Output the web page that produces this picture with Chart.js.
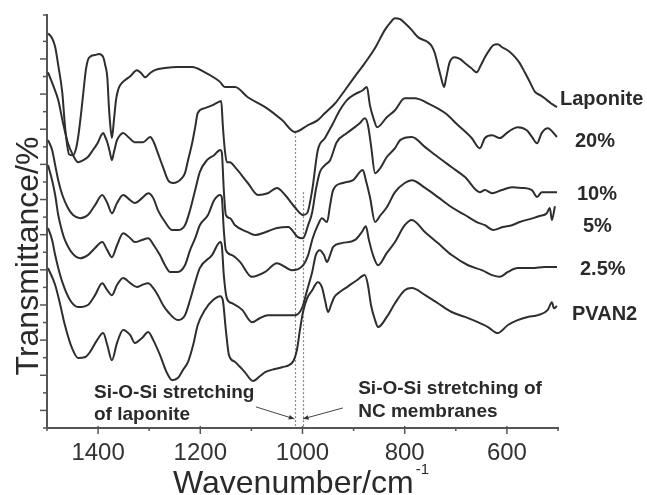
<!DOCTYPE html>
<html><head><meta charset="utf-8">
<style>html,body{margin:0;padding:0;background:#fff;}canvas{display:block;}</style>
<script src="https://cdn.jsdelivr.net/npm/chart.js@4.4.1/dist/chart.umd.min.js"></script>
</head><body>
<canvas id="c" width="647" height="495"></canvas>
<script>
// ---- data (wavenumber in cm^-1, transmittance in arbitrary offset %) ----
const seriesNames = ['Laponite','20%','10%','5%','2.5%','PVAN2'];

const lapWn = [1498,1490,1484,1478,1470,1465,1461,1457,1449,1443,1439,1433,1429,1424,1420,1414,1406,1398,1390,1386,1382,1379,1377,1373,1369,1365,1361,1357,1347,1337,1324,1316,1308,1298,1289,1269,1244,1216,1191,1171,1161,1152,1132,1107,1073,1040,1015,989,970,956,936,917,897,878,858,839,829,819,809,800,786,774,755,747,741,735,729,723,719,712,702,692,682,670,659,651,643,633,627,618,610,596,584,575,565,555,545,535,526,514,502];
const lapT = [107.3,105.9,103.4,98.2,90.3,81.2,76.0,72.9,72.6,74.6,77.8,84.9,90.3,96.8,99.7,100.8,101.1,101.4,100.5,98.2,94.8,86.8,82.6,77.5,82.6,88.3,91.1,92.5,94.0,95.1,96.8,96.0,94.8,96.0,96.8,97.4,97.7,97.7,96.2,94.5,93.4,92.0,92.0,89.1,86.3,82.6,79.2,81.2,82.6,84.6,87.4,91.1,95.1,98.8,103.1,108.2,110.2,111.6,111.3,110.2,108.2,106.2,104.8,103.6,101.6,98.2,94.8,92.0,94.5,99.1,100.5,100.0,98.8,97.4,96.2,98.2,100.5,102.8,103.9,104.2,103.4,102.2,100.5,98.8,96.2,93.4,90.6,89.7,88.8,87.4,86.3];

const p20Wn = [1498,1488,1478,1469,1459,1449,1439,1429,1420,1410,1400,1394,1390,1386,1382,1377,1373,1369,1363,1357,1351,1341,1328,1312,1298,1291,1283,1273,1263,1253,1245,1236,1230,1224,1216,1210,1205,1191,1177,1165,1159,1156,1152,1148,1142,1132,1107,1087,1068,1050,1034,1015,999,991,981,970,956,942,927,913,897,882,874,868,860,854,835,819,800,780,755,721,696,669,653,643,629,614,598,579,561,551,541,532,520,502];
const p20T = [96.2,92.5,88.3,82.0,76.0,72.6,70.6,71.2,72.1,74.1,76.3,78.3,78.9,77.8,76.3,73.5,71.2,73.5,76.9,78.3,78.9,77.8,76.3,76.3,77.8,76.3,73.2,69.2,65.5,64.7,65.0,66.1,67.5,71.2,76.0,80.6,84.6,86.0,86.8,87.7,88.0,81.2,74.1,70.6,70.6,69.2,64.7,61.3,61.8,63.3,61.3,57.8,55.6,56.1,62.7,74.1,77.5,81.2,85.4,88.3,90.0,91.1,92.0,86.8,82.6,80.6,83.4,85.4,88.8,88.8,87.4,84.6,81.2,77.5,74.6,77.5,78.3,77.5,79.2,80.6,79.7,77.8,76.0,78.9,80.3,77.8];

const p10Wn = [1498,1490,1484,1478,1470,1459,1449,1435,1420,1406,1392,1382,1373,1363,1351,1337,1328,1314,1302,1292,1283,1269,1255,1244,1230,1220,1210,1201,1187,1173,1161,1158,1154,1150,1142,1132,1107,1093,1073,1050,1028,1009,999,989,981,974,966,956,946,933,913,888,878,872,866,858,848,835,819,809,786,760,735,708,682,653,643,629,610,590,571,551,541,532,502];
const p10T = [76.9,74.1,69.8,65.5,61.3,57.6,55.6,54.7,55.6,58.4,61.3,59.0,56.1,59.0,61.3,59.8,59.0,60.4,61.8,60.4,57.0,53.6,51.3,51.3,52.7,57.0,62.7,67.8,71.2,72.6,74.1,73.5,62.7,55.6,54.7,52.7,50.7,49.9,50.7,51.9,52.2,49.3,49.0,52.7,56.4,62.7,67.8,69.8,71.2,76.3,78.9,81.7,83.1,81.2,75.5,67.5,68.9,72.1,74.6,76.9,77.8,74.9,72.1,69.2,66.4,62.1,62.7,61.8,62.7,63.5,63.3,62.7,60.7,62.1,62.1];

const p5Wn = [1498,1490,1484,1478,1470,1465,1451,1435,1420,1406,1392,1382,1373,1363,1351,1337,1328,1314,1302,1291,1279,1269,1259,1244,1230,1220,1210,1201,1185,1173,1161,1158,1154,1150,1138,1122,1099,1073,1050,1034,1021,999,989,980,970,962,952,946,940,921,901,882,876,868,858,847,835,819,800,786,760,735,708,682,659,643,627,608,590,575,549,536,522,516,512,506];
const p5T = [69.8,65.5,61.3,55.6,50.7,48.5,44.8,43.3,44.2,46.2,47.9,45.6,43.6,47.0,50.4,49.0,47.9,48.5,49.0,47.0,44.2,41.3,39.4,39.4,41.3,45.6,49.0,52.7,55.6,59.8,61.3,60.7,51.3,45.6,44.2,42.2,38.0,39.4,41.9,40.8,39.9,41.3,44.2,49.0,52.7,54.7,53.6,58.4,62.7,64.7,65.5,68.4,65.5,60.7,53.6,55.6,57.8,62.1,64.7,65.5,63.3,60.7,57.8,55.6,53.6,52.7,51.3,52.2,52.7,53.6,54.7,55.3,56.1,57.6,54.2,58.1];

const p25Wn = [1498,1490,1484,1478,1470,1455,1439,1420,1406,1392,1382,1373,1363,1351,1337,1324,1314,1302,1292,1283,1273,1263,1244,1230,1220,1210,1201,1177,1161,1158,1154,1148,1138,1118,1099,1083,1068,1040,1015,1001,991,981,974,966,958,952,946,940,923,897,884,876,870,862,852,835,819,800,786,760,735,708,676,649,629,614,598,579,551,526,502];
const p25T = [51.9,48.5,44.2,40.5,36.5,31.4,29.4,30.0,32.8,36.2,34.2,32.8,35.7,37.7,36.2,35.1,35.7,36.2,34.8,32.8,30.0,28.0,25.7,27.1,31.4,36.5,40.5,44.2,47.9,47.0,38.5,31.9,30.5,28.6,25.1,26.3,27.1,27.1,27.1,29.1,34.2,39.4,44.2,45.6,44.2,42.2,44.2,46.5,47.6,48.5,50.7,52.4,48.5,44.2,41.3,44.8,47.9,52.7,54.2,50.7,47.6,44.2,41.3,39.9,38.5,38.0,39.4,40.5,40.5,40.8,40.8];

const pvaWn = [1498,1484,1474,1465,1451,1439,1425,1416,1402,1390,1382,1373,1363,1351,1337,1328,1314,1302,1292,1279,1265,1255,1244,1234,1224,1214,1205,1191,1175,1161,1156,1150,1144,1132,1113,1097,1083,1073,1054,1040,1019,1011,1005,999,991,981,970,962,956,950,944,938,927,913,893,878,872,866,858,852,835,819,800,786,760,735,708,682,657,637,618,598,579,559,539,520,512,508,502];
const pvaT = [40.5,35.7,30.0,24.3,17.7,14.9,15.2,16.6,20.0,22.0,18.6,14.3,19.2,22.9,21.4,19.2,20.6,22.3,20.0,15.8,10.6,8.6,9.2,11.5,13.8,18.6,24.3,28.6,31.4,32.5,31.4,22.9,15.8,13.8,10.9,8.4,9.8,10.9,11.8,12.3,13.8,17.2,22.9,28.0,31.9,34.2,36.5,35.1,31.4,28.0,30.0,32.2,33.7,35.1,37.1,38.5,35.7,30.0,25.7,23.7,26.6,30.5,34.2,34.8,32.8,30.5,28.0,26.6,25.1,23.7,22.0,24.3,25.7,26.6,27.1,28.6,30.8,29.1,29.7];

const xTickLabels = [1400,1200,1000,800,600];
const yTitle = 'Transmittance/%';
const xTitle = 'Wavenumber/cm';
const xTitleSup = '-1';
const noteLeft = ['Si-O-Si stretching','of laponite'];
const noteRight = ['Si-O-Si stretching of','NC membranes'];
const markerWn = [1014, 1000];
const markerTop = [79.2, 62.1];

// ---- build ----
const wnSets = [lapWn,p20Wn,p10Wn,p5Wn,p25Wn,pvaWn];
const tSets = [lapT,p20T,p10T,p5T,p25T,pvaT];
const datasets = seriesNames.map((n,i)=>({
  label:n,
  data: wnSets[i].map((w,k)=>({x:w,y:tSets[i][k]})),
  borderColor:'#2e2e2e', borderWidth:2, pointRadius:0, fill:false,
  cubicInterpolationMode:'monotone'
}));

const FONT = "'Liberation Sans', Arial, sans-serif";
// label layout (outside data)
const labelDx = [2,17,19,25,22,14];
const labelBase = [86.8,74.9,59.8,50.7,38.5,25.7];

const deco = {
  id:'deco',
  beforeDatasetsDraw(chart){
    const {ctx, chartArea:a, scales:{x,y}} = chart;
    ctx.save();
    ctx.setLineDash([2,2]);
    ctx.strokeStyle='#888'; ctx.lineWidth=1.2;
    markerWn.forEach((w,i)=>{
      const px = Math.round(x.getPixelForValue(w))+0.5;
      ctx.beginPath(); ctx.moveTo(px, y.getPixelForValue(markerTop[i])); ctx.lineTo(px, a.bottom); ctx.stroke();
    });
    ctx.restore();
  },
  afterDraw(chart){
    const {ctx, chartArea:a, scales:{x,y}} = chart;
    ctx.save();
    ctx.strokeStyle='#555'; ctx.lineWidth=1.5;
    x.ticks.forEach(t=>{
      const px = x.getPixelForValue(t.value);
      const major = t.value % 200 === 0;
      ctx.beginPath(); ctx.moveTo(px, a.bottom-(major?2:0)); ctx.lineTo(px, a.bottom+(major?6:3)); ctx.stroke();
    });
    y.ticks.forEach(t=>{
      const py = y.getPixelForValue(t.value);
      const major = Math.round(t.value) % 10 === 0;
      ctx.beginPath(); ctx.moveTo(a.left-(major?7:4), py); ctx.lineTo(a.left+(major?1:0), py); ctx.stroke();
    });
    // arrows
    const arrow=(x0,y0,x1,y1)=>{
      const X0=x.getPixelForValue(x0),Y0=y.getPixelForValue(y0),X1=x.getPixelForValue(x1),Y1=y.getPixelForValue(y1);
      ctx.strokeStyle='#444'; ctx.lineWidth=1;
      ctx.beginPath(); ctx.moveTo(X0,Y0); ctx.lineTo(X1,Y1); ctx.stroke();
      const ang=Math.atan2(Y1-Y0,X1-X0), L=6;
      ctx.fillStyle='#333'; ctx.beginPath(); ctx.moveTo(X1,Y1);
      ctx.lineTo(X1-L*Math.cos(ang-0.4),Y1-L*Math.sin(ang-0.4));
      ctx.lineTo(X1-L*Math.cos(ang+0.4),Y1-L*Math.sin(ang+0.4)); ctx.closePath(); ctx.fill();
    };
    arrow(1091,1.0,1016,-2.4);
    arrow(921,0.7,999,-2.4);
    // annotations
    ctx.fillStyle='#2a2a2a'; ctx.textBaseline='alphabetic'; ctx.textAlign='left';
    ctx.font='bold 19px '+FONT;
    ctx.fillText(noteLeft[0], x.getPixelForValue(1408), y.getPixelForValue(3.5));
    ctx.fillText(noteLeft[1], x.getPixelForValue(1408), y.getPixelForValue(-2.7));
    ctx.fillText(noteRight[0], x.getPixelForValue(891), y.getPixelForValue(4.7));
    ctx.fillText(noteRight[1], x.getPixelForValue(891), y.getPixelForValue(-1.9));
    ctx.font='bold 20px '+FONT;
    seriesNames.forEach((n,i)=>{ ctx.fillText(n, a.right+labelDx[i], y.getPixelForValue(labelBase[i])); });
    // axis titles
    ctx.fillStyle='#2a2a2a';
    ctx.font='32px '+FONT;
    ctx.save(); ctx.translate(38, 256); ctx.rotate(-Math.PI/2); ctx.textAlign='center'; ctx.fillText(yTitle,0,0); ctx.restore();
    ctx.textAlign='left';
    ctx.fillText(xTitle, 173, 493);
    const w = ctx.measureText(xTitle).width;
    ctx.font='15px '+FONT;
    ctx.fillText(xTitleSup, 173+w+2, 474);
    ctx.restore();
  }
};

new Chart(document.getElementById('c'), {
  type:'line',
  data:{datasets},
  options:{
    responsive:false, animation:false, devicePixelRatio:1,
    layout:{padding:{top:15,right:89,left:0,bottom:0}},
    plugins:{legend:{display:false}, tooltip:{enabled:false}},
    scales:{
      x:{type:'linear', reverse:true, min:500, max:1500,
        grid:{display:false, drawTicks:false},
        border:{display:true, color:'#555', width:2},
        ticks:{stepSize:100, autoSkip:false, maxRotation:0, padding:11, color:'#333',
          font:{family:FONT, size:24},
          callback:(v)=> xTickLabels.includes(v) ? String(v) : ''},
        afterFit:(s)=>{ s.height = 67; }
      },
      y:{type:'linear', min:-5, max:112.5,
        grid:{display:false, drawTicks:false},
        border:{display:true, color:'#555', width:2},
        ticks:{display:false, stepSize:5},
        afterFit:(s)=>{ s.width = 47; }
      }
    }
  },
  plugins:[deco]
});
</script>
</body></html>
